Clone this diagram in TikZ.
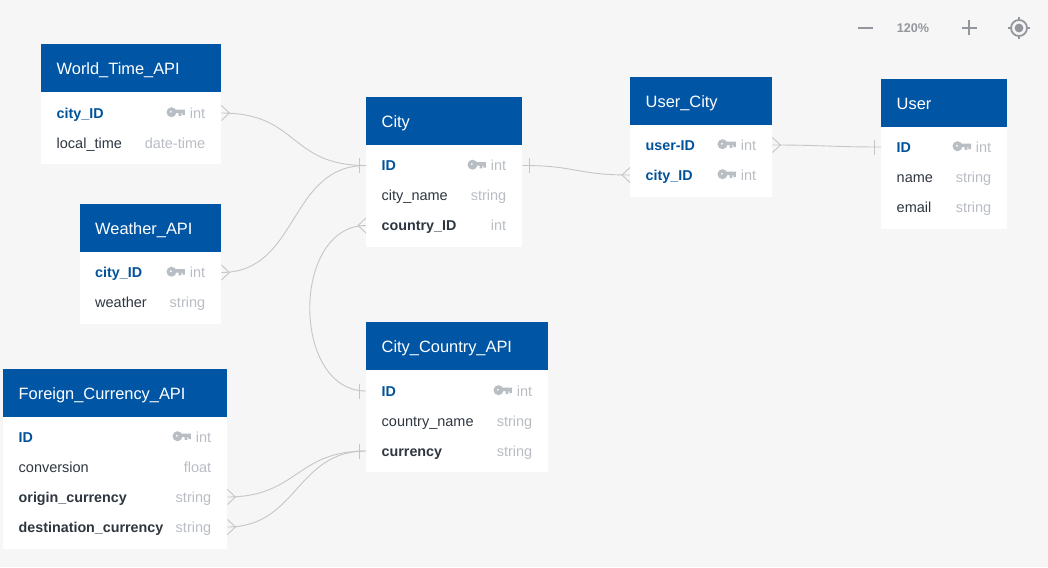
\documentclass[tikz,border=0pt]{standalone}
\usepackage{fontspec}
\setmainfont{Liberation Sans}
\definecolor{pagebg}{HTML}{F6F6F6}
\definecolor{headblue}{HTML}{0055A5}
\definecolor{keyblue}{HTML}{00539B}
\definecolor{darktxt}{HTML}{2E3640}
\definecolor{faint}{HTML}{B9BDC4}
\definecolor{link}{HTML}{C6C6C6}
\definecolor{tool}{HTML}{93979D}
\tikzset{
  x=1pt,y=-1pt,
  headbox/.style={anchor=north west,fill=headblue,text=white,font=\fontsize{16.4}{18}\selectfont,inner sep=0pt,inner xsep=15.5pt,minimum height=48pt,text height=14pt,text depth=2pt},
  bodybox/.style={anchor=north west,fill=white,inner sep=0pt},
  rowbox/.style={anchor=west,inner sep=0pt,inner xsep=15.5pt,minimum height=30pt,text height=12pt,text depth=2pt,font=\fontsize{14.5}{16}\selectfont},
  plainrow/.style={rowbox,text=darktxt},
  boldrow/.style={rowbox,text=darktxt,font=\fontsize{14.3}{16}\selectfont\bfseries},
  pkrow/.style={rowbox,text=keyblue,font=\fontsize{14.3}{16}\selectfont\bfseries},
  typetxt/.style={anchor=east,inner sep=0pt,text=faint,text height=12pt,text depth=2pt,font=\fontsize{14.5}{16}\selectfont},
  linkline/.style={draw=link,line width=0.9pt},
  toolline/.style={draw=tool,line width=1.8pt},
}
% name, x, y, width, body height, title
\newcommand{\etable}[6]{%
  \pgfmathsetmacro{\hw}{#4-31}%
  \node[bodybox,minimum width=#4pt,minimum height=#5pt] (#1-body) at (#2,#3+48) {};
  \node[headbox,text width=\hw pt] (#1-head) at (#2,#3) {#6};
}
% name, x, y centre, width, style, label, type
\newcommand{\erow}[7]{%
  \pgfmathsetmacro{\hw}{#4-31}%
  \node[#5,text width=\hw pt] (#1) at (#2,#3) {#6};
  \node[typetxt] (#1-t) at ([xshift=-16pt]#1.east) {#7};
}
\newcommand{\ekey}[1]{%
  \begin{scope}[shift={([xshift=-5pt,yshift=0.8pt]#1-t.west)}]
    \fill[faint,even odd rule] (-13.2,0) circle (5) (-13.8,-0.4) circle (1.3);
    \fill[faint] (-10,-2.6) rectangle (0.3,1) (-6,1) rectangle (-3.4,3.6) (-2.4,1) rectangle (0.3,3);
  \end{scope}
}
\newcommand{\econn}[3]{\draw[linkline] (#1) .. controls +(#3,0) and +(-#3,0) .. (#2);}
\newcommand{\crowout}[1]{\draw[linkline] ([yshift=-7.5pt]#1) -- ([xshift=8pt]#1) -- ([yshift=7.5pt]#1);}
\newcommand{\crowin}[1]{\draw[linkline] ([yshift=-7.5pt]#1) -- ([xshift=-8pt]#1) -- ([yshift=7.5pt]#1);}
\newcommand{\onebar}[1]{\draw[linkline] ([shift={(-7pt,-7.5pt)}]#1) -- ([shift={(-7pt,7.5pt)}]#1);}
\begin{document}
\begin{tikzpicture}
\useasboundingbox (0,0) rectangle (1048,567);
\fill[pagebg] (0,0) rectangle (1048,567);

\etable{wt}{41}{44}{180}{72}{World\_Time\_API}
\erow{wtcity}{41}{113}{180}{pkrow}{city\_ID}{int}
\erow{wtlocal}{41}{143}{180}{plainrow}{local\_time}{date-time}
\ekey{wtcity}

\etable{wa}{79.5}{204}{141.5}{72}{Weather\_API}
\erow{wacity}{79.5}{272.5}{141.5}{pkrow}{city\_ID}{int}
\erow{waweather}{79.5}{302.5}{141.5}{plainrow}{weather}{string}
\ekey{wacity}

\etable{ci}{366}{97}{156}{102}{City}
\erow{ciid}{366}{165.5}{156}{pkrow}{ID}{int}
\erow{ciname}{366}{195.5}{156}{plainrow}{city\_name}{string}
\erow{cicountry}{366}{225.5}{156}{boldrow}{country\_ID}{int}
\ekey{ciid}

\etable{uc}{630}{77}{142}{72}{User\_City}
\erow{ucuser}{630}{145}{142}{pkrow}{user-ID}{int}
\erow{uccity}{630}{175}{142}{pkrow}{city\_ID}{int}
\ekey{ucuser}
\ekey{uccity}

\etable{us}{881}{79}{126}{102}{User}
\erow{usid}{881}{147}{126}{pkrow}{ID}{int}
\erow{usname}{881}{177}{126}{plainrow}{name}{string}
\erow{usemail}{881}{207}{126}{plainrow}{email}{string}
\ekey{usid}

\etable{cc}{366}{322}{182}{102}{City\_Country\_API}
\erow{ccid}{366}{391}{182}{pkrow}{ID}{int}
\erow{ccname}{366}{421}{182}{plainrow}{country\_name}{string}
\erow{cccur}{366}{451}{182}{boldrow}{currency}{string}
\ekey{ccid}

\etable{fc}{3}{369}{224}{132}{Foreign\_Currency\_API}
\erow{fcid}{3}{437}{224}{pkrow}{ID}{int}
\erow{fcconv}{3}{467}{224}{plainrow}{conversion}{float}
\erow{fcorig}{3}{497}{224}{boldrow}{origin\_currency}{string}
\erow{fcdest}{3}{527}{224}{boldrow}{destination\_currency}{string}
\ekey{fcid}

% connectors
\econn{wtcity.east}{ciid.west}{78}
\crowout{wtcity.east}
\econn{wacity.east}{ciid.west}{78}
\crowout{wacity.east}
\onebar{ciid.west}
\econn{ciid.east}{uccity.west}{55}
\draw[linkline] ([shift={(7pt,-7.5pt)}]ciid.east) -- ([shift={(7pt,7.5pt)}]ciid.east);
\crowin{uccity.west}
\econn{ucuser.east}{usid.west}{50}
\crowout{ucuser.east}
\onebar{usid.west}
\draw[linkline] (cicountry.west) .. controls +(-75,0) and +(-75,0) .. (ccid.west);
\crowin{cicountry.west}
\onebar{ccid.west}
\econn{fcorig.east}{cccur.west}{70}
\econn{fcdest.east}{cccur.west}{70}
\crowout{fcorig.east}
\crowout{fcdest.east}
\onebar{cccur.west}

% zoom toolbar
\coordinate (minusc) at (865,28);
\coordinate (plusc) at (969,28);
\coordinate (targetc) at (1019,28);
\draw[toolline] ([xshift=-7.5pt]minusc) -- ([xshift=7.5pt]minusc);
\node[text=tool,inner sep=0pt,font=\fontsize{12.6}{14}\selectfont\bfseries] (zoomlevel) at (913,28) {120\%};
\draw[toolline] ([xshift=-7.5pt]plusc) -- ([xshift=7.5pt]plusc) ([yshift=-7.5pt]plusc) -- ([yshift=7.5pt]plusc);
\draw[toolline] (targetc) circle (8);
\fill[tool] (targetc) circle (4.4);
\draw[toolline] ([yshift=-11pt]targetc) -- ([yshift=-8pt]targetc) ([yshift=8pt]targetc) -- ([yshift=11pt]targetc) ([xshift=-11pt]targetc) -- ([xshift=-8pt]targetc) ([xshift=8pt]targetc) -- ([xshift=11pt]targetc);
\end{tikzpicture}
\end{document}
